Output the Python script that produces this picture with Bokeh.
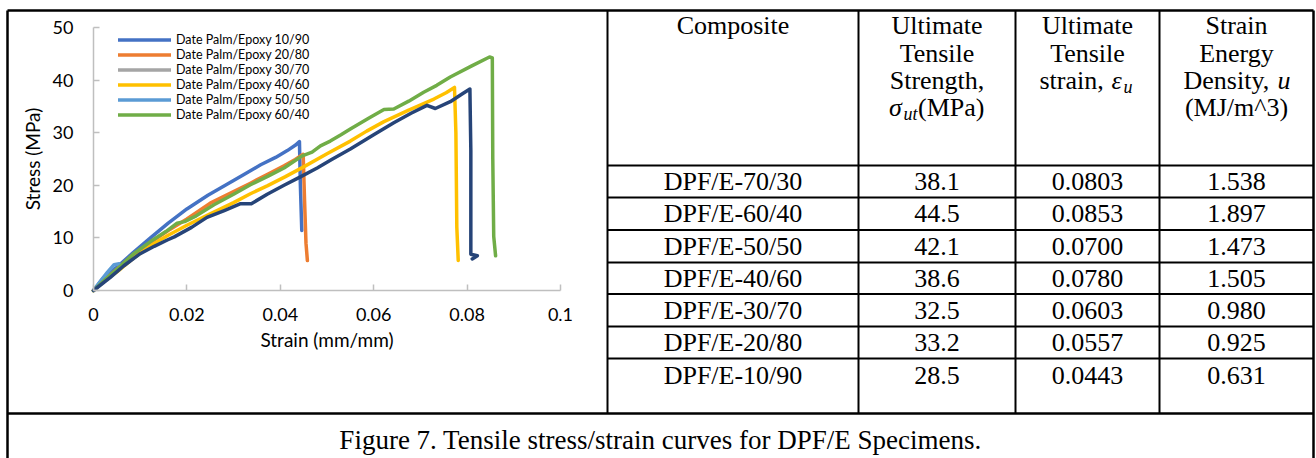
from bokeh.plotting import figure
from bokeh.models import Range1d, FixedTicker, LinearAxis, Legend, LegendItem
from bokeh.core.properties import value
from bokeh.embed import file_html
from bokeh.resources import INLINE

# ---------------- chart data ----------------
series_labels = ["Date Palm/Epoxy 10/90", "Date Palm/Epoxy 20/80", "Date Palm/Epoxy 30/70",
                 "Date Palm/Epoxy 40/60", "Date Palm/Epoxy 50/50", "Date Palm/Epoxy 60/40"]

dp10_90_strain = [0, 0.0022, 0.0051, 0.0085, 0.0122, 0.016, 0.020, 0.0245, 0.0286, 0.0325, 0.0358, 0.039, 0.0415, 0.0432, 0.0441, 0.0443, 0.0446]
dp10_90_stress = [0, 2.5, 4.5, 7.2, 10.0, 12.8, 15.5, 18.1, 20.2, 22.2, 23.9, 25.3, 26.6, 27.6, 28.3, 20.0, 11.4]

dp20_80_strain = [0, 0.0025, 0.0051, 0.0085, 0.0122, 0.016, 0.020, 0.025, 0.030, 0.0336, 0.0375, 0.0408, 0.0432, 0.0449, 0.0452, 0.0455, 0.0458]
dp20_80_stress = [0, 2.1, 4.1, 6.8, 9.1, 11.4, 13.6, 16.6, 18.8, 20.4, 22.2, 23.7, 24.9, 25.9, 17.0, 9.0, 5.7]

dp30_70_strain = [0, 0.002, 0.0035]
dp30_70_stress = [0, 1.6, 2.8]

dp40_60_strain = [0, 0.0025, 0.0051, 0.0085, 0.0122, 0.016, 0.020, 0.025, 0.030, 0.0336, 0.0372, 0.041, 0.045, 0.050, 0.055, 0.0585, 0.0622, 0.0675, 0.0729, 0.0755, 0.0773, 0.0776, 0.0778, 0.0781]
dp40_60_stress = [0, 1.9, 3.6, 6.1, 8.5, 10.5, 12.4, 14.6, 16.7, 18.4, 19.9, 21.6, 23.5, 26.0, 28.4, 30.3, 32.1, 34.3, 36.4, 37.6, 38.6, 30.0, 12.0, 5.7]

dp50_50_strain = [0, 0.0015, 0.003, 0.0044, 0.0055]
dp50_50_stress = [0, 1.8, 3.5, 4.9, 5.1]

dp60_40_strain = [0, 0.0025, 0.0051, 0.0085, 0.0122, 0.0155, 0.0179, 0.0195, 0.022, 0.0258, 0.030, 0.0336, 0.0375, 0.0408, 0.0447, 0.0468, 0.0486, 0.0507, 0.053, 0.055, 0.059, 0.0622, 0.0643, 0.0675, 0.0707, 0.0735, 0.0764, 0.081, 0.0848, 0.0854, 0.0855, 0.0857, 0.0861]
dp60_40_stress = [0, 2.1, 4.1, 6.9, 9.3, 11.2, 12.8, 13.1, 14.2, 16.3, 18.3, 20.1, 21.8, 23.3, 25.6, 26.3, 27.5, 28.4, 29.6, 30.7, 32.8, 34.4, 34.5, 36.0, 37.7, 39.0, 40.6, 42.7, 44.4, 44.2, 25.0, 10.3, 6.6]

dp70_30_strain = [0, 0.0036, 0.0065, 0.010, 0.013, 0.0158, 0.0173, 0.021, 0.0243, 0.028, 0.0315, 0.0338, 0.0372, 0.0408, 0.0443, 0.0479, 0.051, 0.055, 0.060, 0.0643, 0.068, 0.0714, 0.0732, 0.0764, 0.079, 0.0806, 0.0808, 0.0808, 0.0822, 0.0811]
dp70_30_stress = [0, 2.5, 4.7, 7.0, 8.4, 9.6, 10.2, 12.0, 13.9, 15.2, 16.5, 16.5, 18.3, 20.0, 21.6, 23.3, 24.9, 26.9, 29.6, 31.9, 33.7, 35.2, 34.6, 35.9, 37.4, 38.3, 26.6, 6.9, 6.6, 6.0]

series_colors = ["#4472C4", "#ED7D31", "#A5A5A5", "#FFC000", "#5B9BD5", "#70AD47"]
extra_color = "#264478"

x_ticks = [0, 0.02, 0.04, 0.06, 0.08, 0.1]
x_tick_labels = ["0", "0.02", "0.04", "0.06", "0.08", "0.1"]
y_ticks = [0, 10, 20, 30, 40, 50]

# ---------------- table data ----------------
col_headers = [
    ["Composite"],
    ["Ultimate", "Tensile", "Strength,"],
    ["Ultimate", "Tensile"],
    ["Strain", "Energy"],
]
composites = ["DPF/E-70/30", "DPF/E-60/40", "DPF/E-50/50", "DPF/E-40/60", "DPF/E-30/70", "DPF/E-20/80", "DPF/E-10/90"]
uts_mpa = ["38.1", "44.5", "42.1", "38.6", "32.5", "33.2", "28.5"]
ult_strain = ["0.0803", "0.0853", "0.0700", "0.0780", "0.0603", "0.0557", "0.0443"]
energy_density = ["1.538", "1.897", "1.473", "1.505", "0.980", "0.925", "0.631"]
caption_text = "Figure 7. Tensile stress/strain curves for DPF/E Specimens."

# ---------------- page geometry (pixels) ----------------
W, H = 1316, 458
plot_left, plot_right = 93, 560      # strain 0 .. 0.1
plot_top, plot_bottom = 27, 290      # stress 50 .. 0
X_MAX, Y_MAX = 0.1, 50

SERIF = value("Liberation Serif")
FS = value("26px")
SUB = value("18px")

P = figure(width=W, height=H, x_range=Range1d(0, W), y_range=Range1d(H, 0),
           output_backend="svg", toolbar_location=None, min_border=0,
           x_axis_location=None, y_axis_location=None)
P.outline_line_color = None
for g in P.grid:
    g.visible = False

# chart coordinate system mapped onto the page
kx = (plot_right - plot_left) / X_MAX
ky = (plot_bottom - plot_top) / Y_MAX
P.extra_x_ranges = {"strain": Range1d(-plot_left / kx, (W - plot_left) / kx)}
P.extra_y_ranges = {"stress": Range1d(-(H - plot_bottom) / ky, plot_bottom / ky)}

xs = [dp10_90_strain, dp20_80_strain, dp30_70_strain, dp40_60_strain, dp50_50_strain, dp60_40_strain]
ys = [dp10_90_stress, dp20_80_stress, dp30_70_stress, dp40_60_stress, dp50_50_stress, dp60_40_stress]

# ---------------- axes ----------------
def style_axis(ax):
    ax.axis_line_color = "#BFBFBF"
    ax.axis_line_width = 1.5
    ax.major_tick_line_color = "#BFBFBF"
    ax.major_tick_line_width = 1.5
    ax.major_tick_in = 6
    ax.major_tick_out = 0
    ax.minor_tick_line_color = None
    ax.major_label_text_font = "Lato"
    ax.major_label_text_font_size = "18px"
    ax.major_label_text_color = "black"
    ax.axis_label_text_font = "Lato"
    ax.axis_label_text_font_size = "19px"
    ax.axis_label_text_font_style = "normal"
    ax.axis_label_text_color = "black"

xax = LinearAxis(x_range_name="strain", y_range_name="stress", fixed_location=0, bounds=(0, X_MAX),
                 ticker=FixedTicker(ticks=x_ticks), axis_label="Strain (mm/mm)")
style_axis(xax)
xax.major_label_overrides = {("0" if t == 0 else str(t)): l for t, l in zip(x_ticks, x_tick_labels)}
xax.major_label_standoff = 17
xax.axis_label_standoff = 4
P.add_layout(xax, "below")

yax = LinearAxis(x_range_name="strain", y_range_name="stress", fixed_location=0, bounds=(0, Y_MAX),
                 ticker=FixedTicker(ticks=y_ticks), axis_label="Stress (MPa)")
style_axis(yax)
yax.major_label_standoff = 20
yax.axis_label_standoff = 6
P.add_layout(yax, "left")

# ---------------- curves ----------------
items = []
for sx, sy, col, lab in zip(xs, ys, series_colors, series_labels):
    r = P.line(sx, sy, x_range_name="strain", y_range_name="stress", line_color=col, line_width=3.5,
               line_join="round", line_cap="round")
    items.append(LegendItem(label=lab, renderers=[r]))
P.line(dp70_30_strain, dp70_30_stress, x_range_name="strain", y_range_name="stress",
       line_color=extra_color, line_width=3.5, line_join="round", line_cap="round")

lg = Legend(items=items, location=(118, H - 122), padding=0, margin=0, spacing=0,
            glyph_width=53, glyph_height=15, label_height=15, label_standoff=5,
            label_text_font="Lato", label_text_font_size="12.5px", label_text_color="black",
            border_line_color=None, background_fill_alpha=0)
P.add_layout(lg)

# ---------------- frame and table lines ----------------
col_edges = [607, 858, 1015, 1159, 1313]
row_lines = [165, 197, 229.5, 262, 293.5, 326, 358]
P.segment(x0=[7, 1313, 7, 7], y0=[10, 10, 10, 413], x1=[7, 1313, 1313, 1313], y1=[H, H, 10, 413],
          line_color="black", line_width=2.5)
P.segment(x0=col_edges[:-1], y0=[10] * 4, x1=col_edges[:-1], y1=[413] * 4, line_color="black", line_width=2)
P.segment(x0=[607] * len(row_lines), y0=row_lines, x1=[1313] * len(row_lines), y1=row_lines,
          line_color="black", line_width=2)

# ---------------- table texts ----------------
centers = [(col_edges[i] + col_edges[i + 1]) / 2 for i in range(4)]
head_mid = [25, 52.5, 80, 107]
hx, hy, ht = [], [], []
for c, lines in zip(centers, col_headers):
    for k, s in enumerate(lines):
        hx.append(c); hy.append(head_mid[k]); ht.append(s)
P.text(x=hx, y=hy, text=ht, text_align="center", text_baseline="middle",
       text_font=SERIF, text_font_size=FS, text_color="black")

def part(x, y, s, size=FS, style="normal"):
    P.text(x=[x], y=[y], text=[s], text_font=SERIF, text_font_size=size, text_font_style=style,
           text_align="left", text_baseline="middle", text_color="black")

# sigma_ut (MPa)
sx0 = centers[1] - 48
part(sx0, head_mid[3], "σ", style="italic")
part(sx0 + 14.5, head_mid[3] + 6, "ut", size=SUB, style="italic")
part(sx0 + 29, head_mid[3], "(MPa)")
# strain, eps_u
ex0 = centers[2] - 48
part(ex0, head_mid[2], "strain, ")
part(ex0 + 72, head_mid[2], "ε", style="italic")
part(ex0 + 84, head_mid[2] + 6, "u", size=SUB, style="italic")
# Density, u  and (MJ/m^3)
dx0 = centers[3] - 53
part(dx0, head_mid[2], "Density, ")
part(dx0 + 94, head_mid[2], "u", style="italic")
P.text(x=[centers[3]], y=[head_mid[3]], text=["(MJ/m^3)"], text_font=SERIF, text_font_size=FS,
       text_align="center", text_baseline="middle", text_color="black")

row_mid = [r + 16 for r in row_lines[:-1]] + [row_lines[-1] + 17]
for c, vals in zip(centers, [composites, uts_mpa, ult_strain, energy_density]):
    P.text(x=[c] * len(vals), y=row_mid, text=vals, text_align="center", text_baseline="middle",
           text_font=SERIF, text_font_size=FS, text_color="black")

# ---------------- caption ----------------
P.text(x=[660], y=[439], text=[caption_text], text_align="center", text_baseline="middle",
       text_font=SERIF, text_font_size=value("27px"), text_color="black")

open("out.html", "w").write(file_html(P, INLINE))
